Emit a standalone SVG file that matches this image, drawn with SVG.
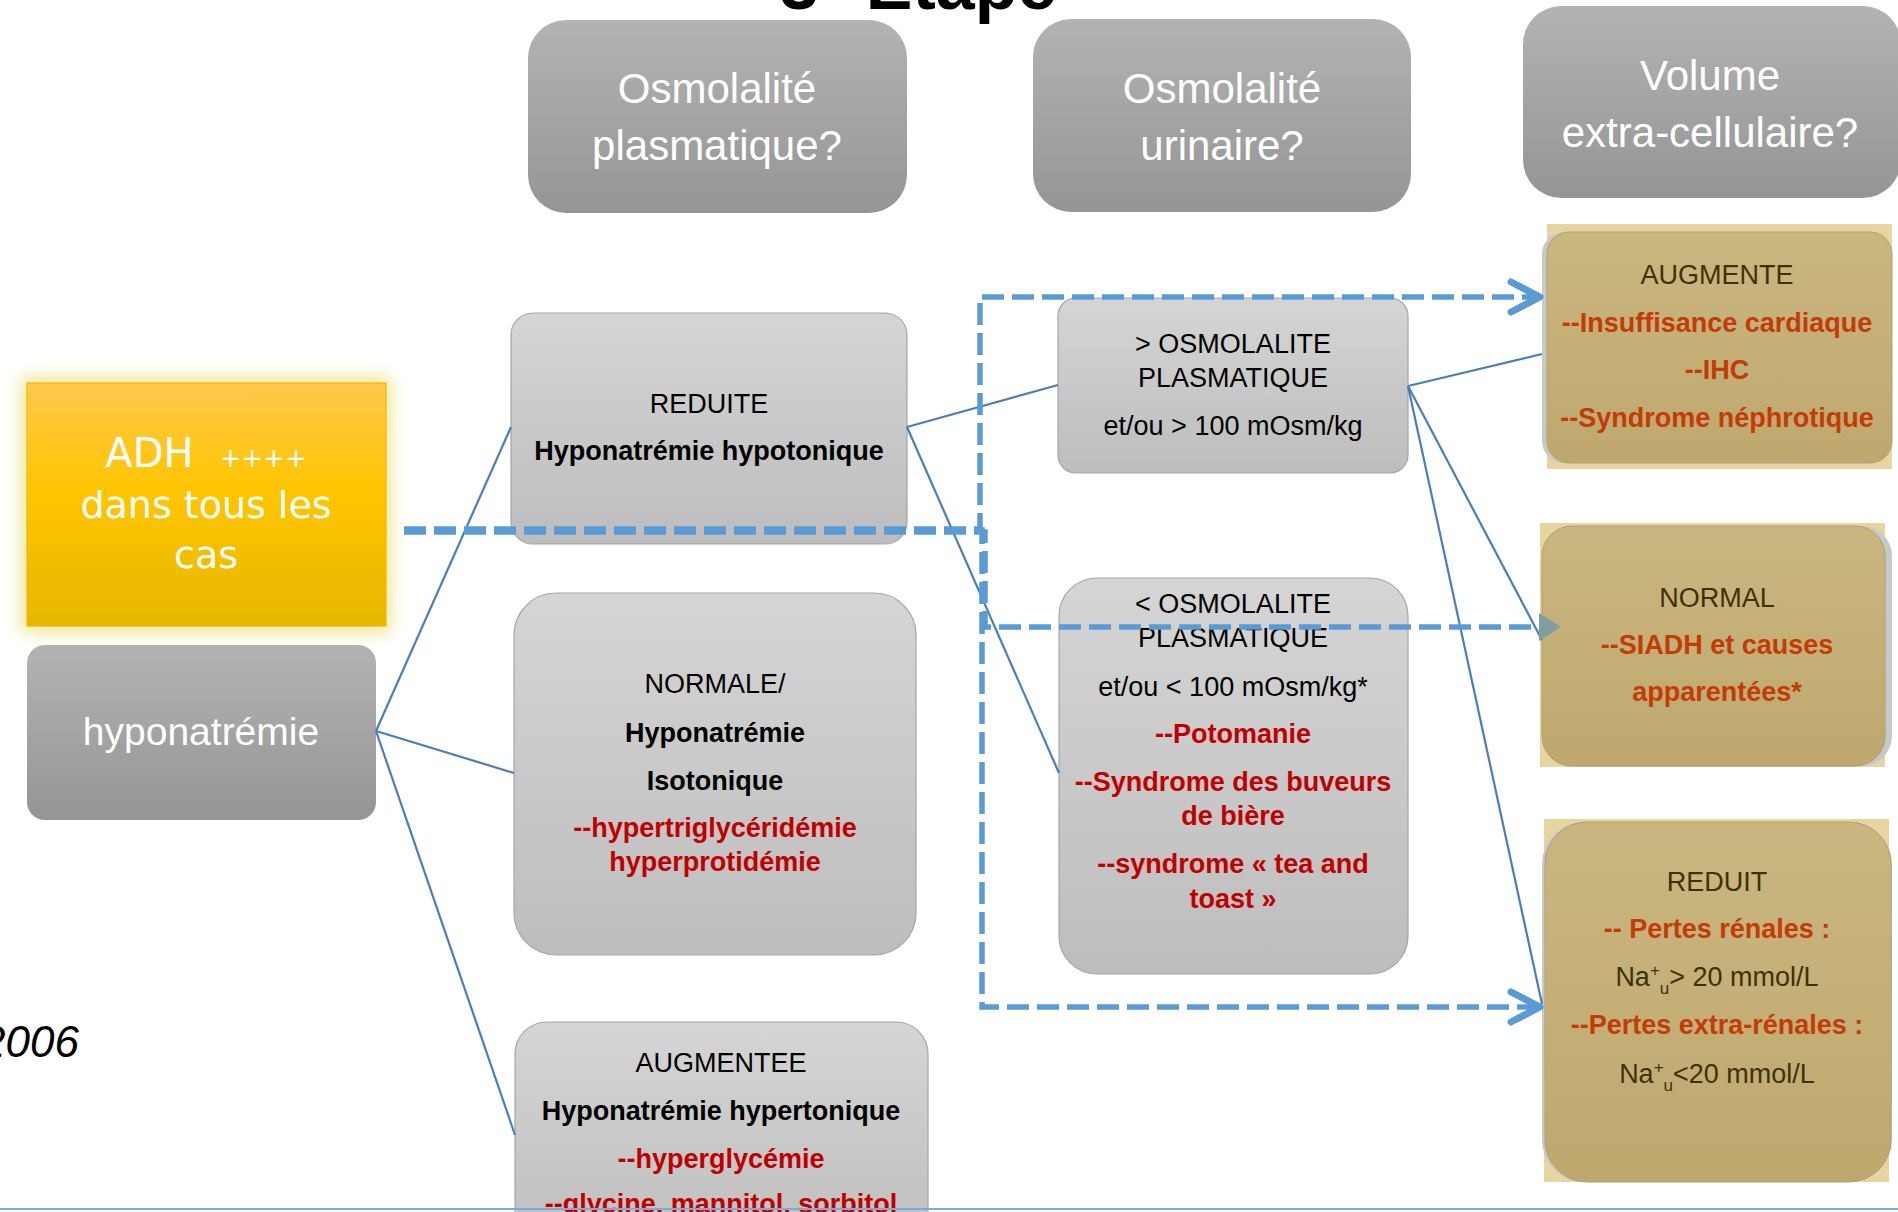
<svg xmlns="http://www.w3.org/2000/svg" width="1898" height="1212" viewBox="0 0 1898 1212">
<defs>
<linearGradient id="gHdr" x1="0" y1="0" x2="0" y2="1"><stop offset="0" stop-color="#B3B3B3"/><stop offset="1" stop-color="#959595"/></linearGradient>
<linearGradient id="gLight" x1="0" y1="0" x2="0" y2="1"><stop offset="0" stop-color="#D5D5D5"/><stop offset="1" stop-color="#BDBDBD"/></linearGradient>
<linearGradient id="gTan" x1="0" y1="0" x2="0" y2="1"><stop offset="0" stop-color="#CAB680"/><stop offset="1" stop-color="#BEA86E"/></linearGradient>
<linearGradient id="gADH" x1="0" y1="0" x2="0" y2="1"><stop offset="0" stop-color="#FFC84C"/><stop offset="0.45" stop-color="#FFC500"/><stop offset="1" stop-color="#E7B700"/></linearGradient>
<filter id="glow" x="-20%" y="-20%" width="140%" height="140%"><feGaussianBlur stdDeviation="9"/></filter>
<marker id="chev" viewBox="0 0 40 40" refX="35" refY="20" markerWidth="40" markerHeight="40" markerUnits="userSpaceOnUse" orient="auto">
<path d="M6,5 L35,20 L6,35" fill="none" stroke="#5B9BD5" stroke-width="7" stroke-linecap="round" stroke-linejoin="round" stroke-dasharray="none"/>
</marker>
</defs>
<style>
text{font-family:"Liberation Sans",Arial,sans-serif;text-anchor:middle}
.hdr rect{fill:url(#gHdr)}
.hdr text{fill:#FFFFFF;font-size:42px}
.lt{fill:url(#gLight);stroke:#A6A6A6;stroke-width:1.2}
.tan{fill:url(#gTan);stroke:#B0A070;stroke-width:1}
.tanbg{fill:#E6D59E}
.tanedge{fill:#C8C8C8}
.t{font-size:27px;fill:#000}
.b{font-weight:bold}
.r{fill:#C00000}
.o{fill:#C33B07;font-weight:bold}
.d{fill:#3E3207}
.sol{stroke:#4A7EBB;stroke-width:2.2;fill:none}
.dash{stroke:#5B9BD5;stroke-width:5.5;fill:none;stroke-dasharray:22 8}
</style>
<rect width="1898" height="1212" fill="#FFFFFF"/>

<text x="918" y="9" style="font-size:70px;font-weight:bold;fill:#000">3° Etape</text>

<g id="hdr-plasma" class="hdr"><rect x="528" y="20" width="379" height="193" rx="38"/><text x="717" y="103">Osmolalité</text><text x="717" y="160">plasmatique?</text></g>
<g id="hdr-urine" class="hdr"><rect x="1033" y="19" width="378" height="193" rx="38"/><text x="1222" y="103">Osmolalité</text><text x="1222" y="160">urinaire?</text></g>
<g id="hdr-vec" class="hdr"><rect x="1523" y="6" width="378" height="192" rx="38"/><text x="1710" y="90">Volume</text><text x="1710" y="147">extra-cellulaire?</text></g>

<g id="adh">
<rect x="22" y="378" width="368" height="254" fill="#ECE48A" filter="url(#glow)"/>
<rect x="27" y="383" width="359" height="243" fill="url(#gADH)" stroke="#F2B800" stroke-width="1.2"/>
<text x="206" y="467" style="font-family:'DejaVu Sans',sans-serif;font-size:40px;fill:#FFFFFF">ADH<tspan dx="26" style="font-size:26px">++++</tspan></text>
<text x="206" y="518" style="font-family:'DejaVu Sans',sans-serif;font-size:38px;fill:#FFFFFF">dans tous les</text>
<text x="206" y="568" style="font-family:'DejaVu Sans',sans-serif;font-size:38px;fill:#FFFFFF">cas</text>
</g>

<g id="hypo"><rect x="27" y="645" width="349" height="175" rx="18" fill="url(#gHdr)"/><text x="201" y="745" style="font-size:39px;fill:#FFFFFF">hyponatrémie</text></g>

<g id="reduite"><rect class="lt" x="511" y="313" width="396" height="231" rx="22"/>
<text class="t" x="709" y="413">REDUITE</text>
<text class="t b" x="709" y="460">Hyponatrémie hypotonique</text></g>

<g id="normale"><rect class="lt" x="514" y="593" width="402" height="362" rx="42"/>
<text class="t" x="715" y="693">NORMALE/</text>
<text class="t b" x="715" y="742">Hyponatrémie</text>
<text class="t b" x="715" y="790">Isotonique</text>
<text class="t b r" x="715" y="837">--hypertriglycéridémie</text>
<text class="t b r" x="715" y="871">hyperprotidémie</text></g>

<g id="augmentee"><rect class="lt" x="515" y="1022" width="413" height="240" rx="32"/>
<text class="t" x="721" y="1072">AUGMENTEE</text>
<text class="t b" x="721" y="1120">Hyponatrémie hypertonique</text>
<text class="t b r" x="721" y="1168">--hyperglycémie</text>
<text class="t b r" x="721" y="1213">--glycine, mannitol, sorbitol</text></g>

<g id="osm-sup"><rect class="lt" x="1058" y="298" width="350" height="175" rx="18"/>
<text class="t" x="1233" y="353">&gt; OSMOLALITE</text>
<text class="t" x="1233" y="387">PLASMATIQUE</text>
<text class="t" x="1233" y="435">et/ou &gt; 100 mOsm/kg</text></g>

<g id="osm-inf"><rect class="lt" x="1059" y="578" width="349" height="396" rx="38"/>
<text class="t" x="1233" y="613">&lt; OSMOLALITE</text>
<text class="t" x="1233" y="647">PLASMATIQUE</text>
<text class="t" x="1233" y="696">et/ou &lt; 100 mOsm/kg*</text>
<text class="t b r" x="1233" y="743">--Potomanie</text>
<text class="t b r" x="1233" y="791">--Syndrome des buveurs</text>
<text class="t b r" x="1233" y="825">de bière</text>
<text class="t b r" x="1233" y="873">--syndrome « tea and</text>
<text class="t b r" x="1233" y="908">toast »</text></g>

<g id="vec-aug"><rect class="tanbg" x="1547" y="224" width="345" height="245"/>
<rect class="tanedge" x="1542" y="232" width="350" height="231" rx="22"/>
<rect class="tan" x="1547" y="232" width="345" height="231" rx="22"/>
<text class="t d" x="1717" y="284">AUGMENTE</text>
<text class="t o" x="1717" y="332">--Insuffisance  cardiaque</text>
<text class="t o" x="1717" y="379">--IHC</text>
<text class="t o" x="1717" y="427">--Syndrome néphrotique</text></g>

<g id="vec-norm"><rect class="tanbg" x="1540" y="523" width="345" height="244"/>
<rect class="tanedge" x="1542" y="526" width="350" height="240" rx="30"/>
<rect class="tan" x="1542" y="526" width="343" height="240" rx="30"/>
<text class="t d" x="1717" y="607">NORMAL</text>
<text class="t o" x="1717" y="654">--SIADH et causes</text>
<text class="t o" x="1717" y="701">apparentées*</text></g>

<g id="vec-red"><rect class="tanbg" x="1544" y="819" width="345" height="363"/>
<rect class="tanedge" x="1542" y="822" width="350" height="360" rx="42"/>
<rect class="tan" x="1545" y="822" width="346" height="360" rx="42"/>
<text class="t d" x="1717" y="891">REDUIT</text>
<text class="t o" x="1717" y="938">-- Pertes rénales  :</text>
<text class="t d" x="1717" y="986">Na<tspan dy="-10" style="font-size:17px">+</tspan><tspan dy="18" style="font-size:17px">u</tspan><tspan dy="-8">&gt; 20 mmol/L</tspan></text>
<text class="t o" x="1717" y="1034">--Pertes extra-rénales  :</text>
<text class="t d" x="1717" y="1083">Na<tspan dy="-10" style="font-size:17px">+</tspan><tspan dy="18" style="font-size:17px">u</tspan><tspan dy="-8">&lt;20 mmol/L</tspan></text></g>

<text x="79" y="1057" style="font-size:44px;font-style:italic;fill:#000;text-anchor:end">2006</text>

<g id="connectors">
<path class="sol" d="M376,731 L511,427"/>
<path class="sol" d="M376,731 L514,773"/>
<path class="sol" d="M376,731 L515,1135"/>
<path class="sol" d="M907,427 L1058,385"/>
<path class="sol" d="M907,427 L1059,773"/>
<path class="sol" d="M1408,386 L1542,354"/>
<path class="sol" d="M1408,386 L1542,640"/>
<path class="sol" d="M1408,386 L1542,1004"/>
<path class="dash" d="M404,529 H980 V297 H1540" marker-end="url(#chev)"/>
<path class="dash" d="M404,532 H985 V627 H1545"/>
<path class="dash" d="M404,530 H982 V1007 H1540" marker-end="url(#chev)"/>
<path d="M1539,613 L1561,627 L1539,641 Z" fill="#7F9E9E"/>
<line x1="0" y1="1209" x2="1898" y2="1209" stroke="#7EAADA" stroke-width="2"/>
</g>
</svg>
